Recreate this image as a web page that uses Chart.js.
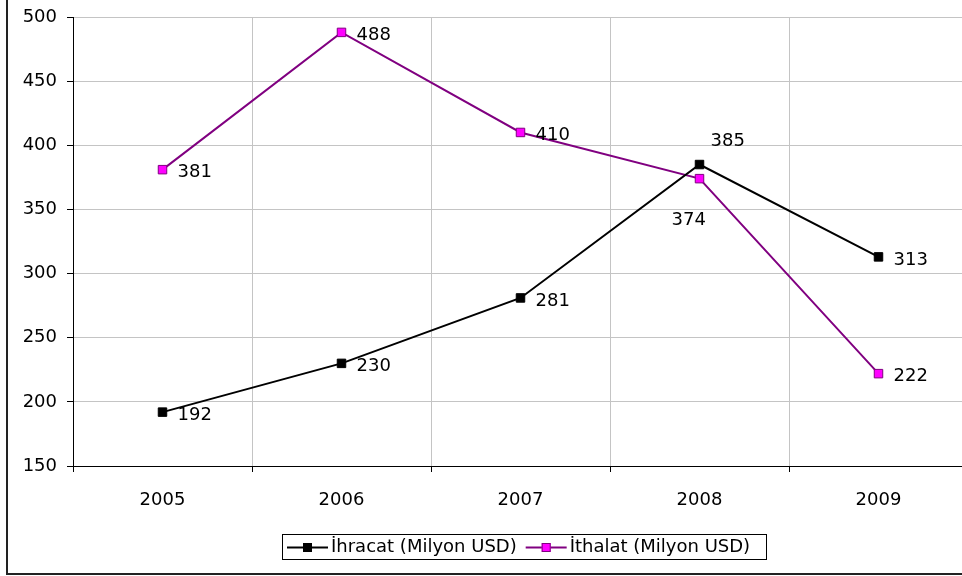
<!DOCTYPE html>
<html>
<head>
<meta charset="utf-8">
<script src="https://cdn.jsdelivr.net/npm/chart.js@4"></script>
<style>
  html, body { margin: 0; padding: 0; background: #fff; overflow: hidden; }
  #wrap { position: absolute; left: 0; top: 0; width: 980px; height: 576px; }
</style>
</head>
<body>
<div id="wrap"><canvas id="c"></canvas></div>
<script>
const years = ['2005', '2006', '2007', '2008', '2009'];
const ihracat = [192, 230, 281, 385, 313];
const ithalat = [381, 488, 410, 374, 222];
const seriesNames = ['İhracat (Milyon USD)', 'İthalat (Milyon USD)'];
const yTicks = [150, 200, 250, 300, 350, 400, 450, 500];

const FONT = "'DejaVu Sans', Verdana, sans-serif";

// value labels placed beside each marker; a few are nudged to avoid overlap
const labelNudge = {
  '0-3': { dx: 11, dy: -23 },
  '1-3': { dx: -28, dy: 42 }
};

const valueLabels = {
  id: 'valueLabels',
  afterDatasetsDraw(chart) {
    const ctx = chart.ctx;
    ctx.save();
    ctx.font = '18px ' + FONT;
    ctx.fillStyle = '#000';
    ctx.textAlign = 'left';
    ctx.textBaseline = 'middle';
    chart.data.datasets.forEach((ds, di) => {
      chart.getDatasetMeta(di).data.forEach((pt, i) => {
        const n = labelNudge[di + '-' + i] || { dx: 15, dy: 3 };
        ctx.fillText(String(ds.data[i]), pt.x + n.dx, pt.y + n.dy);
      });
    });
    ctx.restore();
  }
};

// frame and boxed legend with line-and-square keys
const frameLegend = {
  id: 'frameLegend',
  afterDraw(chart) {
    const ctx = chart.ctx;
    ctx.save();
    ctx.strokeStyle = '#222';
    ctx.lineWidth = 2;
    ctx.beginPath();
    ctx.moveTo(7, 0);
    ctx.lineTo(7, 574);
    ctx.lineTo(chart.width, 574);
    ctx.stroke();

    const boxL = 282, boxT = 534, boxR = 766, boxB = 559;
    const cy = (boxT + boxB) / 2 + 1;
    ctx.lineWidth = 1;
    ctx.strokeStyle = '#000';
    ctx.strokeRect(boxL + 0.5, boxT + 0.5, boxR - boxL, boxB - boxT);
    ctx.font = '18px ' + FONT;
    ctx.textBaseline = 'middle';
    ctx.textAlign = 'left';
    let x = boxL + 5;
    chart.data.datasets.forEach((ds, di) => {
      ctx.strokeStyle = ds.borderColor;
      ctx.lineWidth = 2;
      ctx.beginPath();
      ctx.moveTo(x, cy);
      ctx.lineTo(x + 41, cy);
      ctx.stroke();
      ctx.fillStyle = ds.pointBackgroundColor;
      ctx.fillRect(x + 16, cy - 4.5, 9, 9);
      ctx.strokeStyle = ds.pointBorderColor;
      ctx.lineWidth = 1;
      ctx.strokeRect(x + 16.5, cy - 4, 8, 8);
      x += 44;
      ctx.fillStyle = '#000';
      ctx.fillText(ds.label, x, cy);
      x += ctx.measureText(ds.label).width + 9;
    });
    ctx.restore();
  }
};

new Chart(document.getElementById('c'), {
  type: 'line',
  data: {
    labels: years,
    datasets: [
      {
        label: seriesNames[0],
        data: ihracat,
        borderColor: '#000000',
        backgroundColor: '#000000',
        borderWidth: 2,
        pointStyle: 'rect',
        pointRadius: 6,
        pointBackgroundColor: '#000000',
        pointBorderColor: '#000000',
        pointBorderWidth: 1,
        tension: 0
      },
      {
        label: seriesNames[1],
        data: ithalat,
        borderColor: '#800080',
        backgroundColor: '#ff00ff',
        borderWidth: 2,
        pointStyle: 'rect',
        pointRadius: 6,
        pointBackgroundColor: '#ff00ff',
        pointBorderColor: '#800080',
        pointBorderWidth: 1,
        tension: 0
      }
    ]
  },
  options: {
    responsive: true,
    maintainAspectRatio: false,
    animation: false,
    layout: { padding: { left: 0, right: 12, top: 17, bottom: 0 } },
    plugins: {
      legend: { display: false },
      tooltip: { enabled: false }
    },
    scales: {
      x: {
        offset: true,
        grid: {
          offset: true,
          color: '#c4c4c4',
          lineWidth: 1,
          tickLength: 6,
          tickColor: '#000'
        },
        border: { color: '#000', width: 1 },
        ticks: {
          color: '#000',
          font: { family: FONT, size: 18 },
          padding: 18,
          maxRotation: 0
        },
        afterFit(s) { s.height = 110; }
      },
      y: {
        min: 150,
        max: 500,
        afterBuildTicks(s) { s.ticks = yTicks.map(v => ({ value: v })); },
        grid: {
          color: '#c4c4c4',
          lineWidth: 1,
          tickLength: 6,
          tickColor: '#000'
        },
        border: { color: '#000', width: 1 },
        ticks: {
          color: '#000',
          font: { family: FONT, size: 18 },
          padding: 10
        },
        afterFit(s) {
          s.width = 73;
          s.paddingTop = 0;
          s.paddingBottom = 0;
        }
      }
    }
  },
  plugins: [valueLabels, frameLegend]
});
</script>
</body>
</html>
